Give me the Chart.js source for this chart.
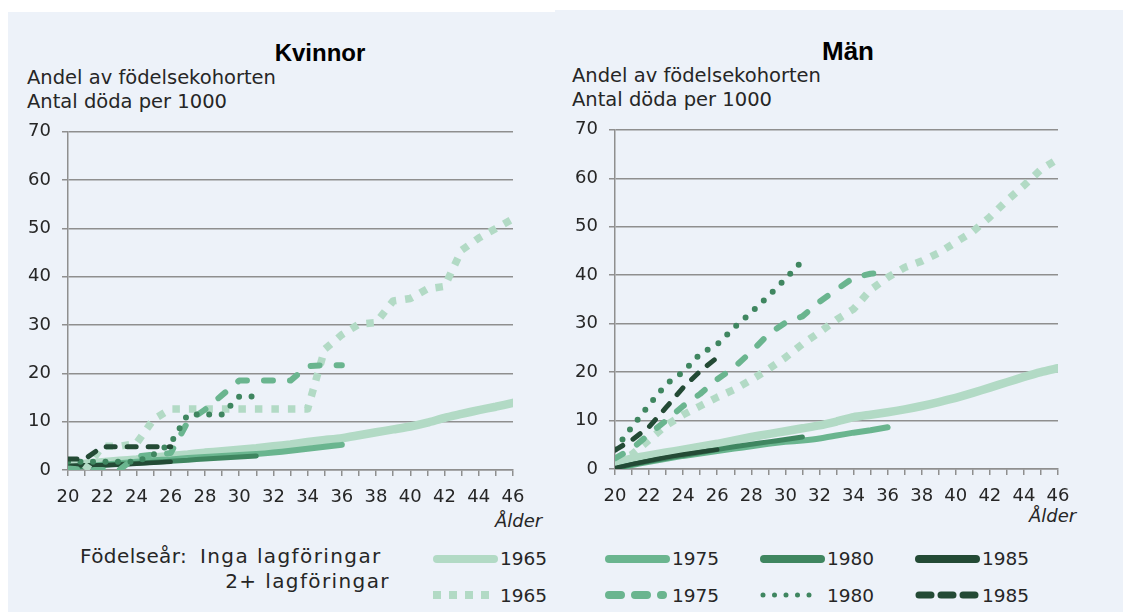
<!DOCTYPE html>
<html>
<head>
<meta charset="utf-8">
<script src="https://cdn.jsdelivr.net/npm/chart.js@4"></script>
<style>
  body { margin: 0; width: 1123px; height: 612px; background: #fff; position: relative; overflow: hidden; font-family: "DejaVu Sans", sans-serif; color: #262626; }
  .panel { position: absolute; background: #edf2f9; }
  .txt { position: absolute; white-space: nowrap; line-height: 1; }
  .title { font-family: "Liberation Sans", Arial, sans-serif; font-weight: bold; font-size: 24px; color: #000; }
  .sub { font-size: 19.5px; }
  .alder { font-size: 18px; font-style: italic; }
  .leg { font-size: 18.5px; }
  canvas { position: absolute; }
  svg { position: absolute; }
</style>
</head>
<body>
<div class="panel" style="left:8px; top:12px; width:547px; height:600px;"></div>
<div class="panel" style="left:555px; top:10px; width:568px; height:602px;"></div>

<div class="txt title" style="left:320px; top:41px; transform:translateX(-50%);">Kvinnor</div>
<div class="txt title" style="left:848px; top:38px; transform:translateX(-50%); font-size:26px;">Män</div>
<div class="txt sub" style="left:27px; top:68px;">Andel av födelsekohorten</div>
<div class="txt sub" style="left:27px; top:92px;">Antal döda per 1000</div>
<div class="txt sub" style="left:572px; top:66px;">Andel av födelsekohorten</div>
<div class="txt sub" style="left:572px; top:90px;">Antal döda per 1000</div>
<div class="txt alder" style="left:495px; top:512px;">Ålder</div>
<div class="txt alder" style="left:1029px; top:507px;">Ålder</div>

<canvas id="kvinnor" width="530" height="430" style="left:8px; top:110px;"></canvas>
<canvas id="man" width="528" height="431" style="left:555px; top:108px;"></canvas>

<div id="legend"></div>

<script>
// Ålder (x-axel)
const ages = [20, 21, 22, 23, 24, 25, 26, 27, 28, 29, 30, 31, 32, 33, 34, 35, 36, 37, 38, 39, 40, 41, 42, 43, 44, 45, 46];
const yTicks = [0, 10, 20, 30, 40, 50, 60, 70];

// Kvinnor, inga lagföringar
const kv1965 = [1.0, 1.3, 1.6, 1.9, 2.2, 2.6, 2.9, 3.2, 3.6, 3.9, 4.2, 4.5, 4.9, 5.3, 5.8, 6.2, 6.6, 7.2, 7.8, 8.4, 9.0, 9.8, 10.8, 11.6, 12.4, 13.1, 13.9];
const kv1975 = [0.5, 0.8, 1.1, 1.4, 1.7, 2.0, 2.2, 2.5, 2.7, 2.9, 3.1, 3.3, 3.6, 4.0, 4.4, 4.8, 5.2];
const kv1980 = [0.5, 0.8, 1.0, 1.2, 1.4, 1.6, 1.8, 2.0, 2.3, 2.5, 2.7, 2.9];
const kv1985 = [0.9, 1.0, 1.0, 1.1, 1.3, 1.5, 1.7];
// Kvinnor, 2+ lagföringar
const kv1965p = [0, 0, 4.9, 4.9, 5.5, 10.5, 12.6, 12.6, 12.6, 12.6, 12.6, 12.6, 12.6, 12.6, 12.6, 25.0, 28.0, 30.2, 30.5, 35.0, 35.5, 37.5, 38.0, 45.5, 48.0, 50.0, 52.0];
const kv1975p = [0.3, 0, 0, 0, 2.8, 3.2, 3.5, 10.0, 12.5, 15.5, 18.5, 18.5, 18.5, 18.5, 21.5, 21.7, 21.7];
const kv1980p = [1.7, 1.7, 1.7, 1.7, 1.7, 3.2, 5.5, 11.5, 11.5, 11.5, 15.2, 15.2];
const kv1985p = [2.3, 2.3, 4.8, 4.8, 4.8, 4.8, 4.8];

// Män, inga lagföringar
const man1965 = [1.2, 2.2, 2.8, 3.4, 4.0, 4.6, 5.2, 5.9, 6.6, 7.2, 7.8, 8.4, 9.0, 9.8, 10.7, 11.2, 11.7, 12.3, 13.0, 13.8, 14.7, 15.7, 16.8, 17.9, 19.0, 20.0, 20.8];
const man1975 = [0, 0.8, 1.5, 2.1, 2.7, 3.2, 3.7, 4.2, 4.7, 5.2, 5.6, 5.9, 6.3, 6.9, 7.5, 8.0, 8.6];
const man1980 = [0, 0.9, 1.6, 2.2, 2.8, 3.4, 4.0, 4.6, 5.1, 5.6, 6.1, 6.6];
const man1985 = [0.2, 1.0, 1.7, 2.4, 3.0, 3.5, 4.0];
// Män, 2+ lagföringar
const man1965p = [1.5, 3.0, 6.0, 9.0, 11.2, 13.0, 14.8, 16.4, 18.4, 20.6, 23.0, 25.8, 28.2, 30.8, 33.0, 37.0, 39.5, 41.6, 42.9, 44.6, 46.8, 49.0, 52.0, 55.4, 58.5, 61.8, 64.0];
const man1975p = [2.2, 4.2, 7.2, 10.0, 13.0, 15.5, 18.5, 21.0, 24.2, 27.8, 30.2, 31.5, 34.5, 37.0, 39.5, 40.3, 40.5];
const man1980p = [4.0, 8.7, 13.2, 17.5, 20.0, 23.8, 25.7, 29.2, 32.3, 35.7, 39.2, 43.0];
const man1985p = [3.9, 6.0, 8.7, 12.7, 16.8, 20.2, 23.0];

const years = ['1965', '1975', '1980', '1985'];
const colors = ['#b2dac5', '#6ab58f', '#3f8660', '#234a35'];

// linjestilar per födelseår
const solidW = [8.5, 6, 5, 4.5];
const dashStyles = [
  { w: 7.5, dash: [7.5, 9], cap: 'butt' },
  { w: 6, dash: [9, 17], cap: 'round' },
  { w: 6, dash: [0, 12.5], cap: 'round' },
  { w: 5, dash: [9, 12], cap: 'round' }
];

function pts(vals) {
  return vals.map((v, i) => ({ x: ages[i], y: v }));
}

function buildDatasets(solid, plus) {
  const sets = [];
  // 2+ lagföringar överst
  for (let i = 3; i >= 0; i--) {
    sets.push({
      label: years[i] + ' 2+',
      data: pts(plus[i]),
      borderColor: colors[i],
      borderWidth: dashStyles[i].w,
      borderDash: dashStyles[i].dash,
      borderCapStyle: dashStyles[i].cap,
      borderJoinStyle: 'round',
      pointRadius: 0,
      tension: 0,
      fill: false
    });
  }
  for (let i = 3; i >= 0; i--) {
    sets.push({
      label: years[i],
      data: pts(solid[i]),
      borderColor: colors[i],
      borderWidth: solidW[i],
      borderCapStyle: 'round',
      borderJoinStyle: 'round',
      pointRadius: 0,
      tension: 0.2,
      fill: false
    });
  }
  return sets;
}

function makeChart(id, solid, plus) {
  const ctx = document.getElementById(id).getContext('2d');
  return new Chart(ctx, {
    type: 'line',
    data: { datasets: buildDatasets(solid, plus) },
    options: {
      responsive: false,
      animation: false,
      devicePixelRatio: 1,
      layout: { padding: { left: 0, top: 18, right: 25, bottom: 0 } },
      plugins: { legend: { display: false }, tooltip: { enabled: false } },
      scales: {
        x: {
          type: 'linear',
          min: ages[0],
          max: ages[ages.length - 1],
          afterFit: s => { s.height = 70; },
          afterBuildTicks: s => { s.ticks = ages.map(v => ({ value: v })); },
          ticks: {
            autoSkip: false,
            maxRotation: 0,
            padding: 11,
            color: '#262626',
            font: { family: 'DejaVu Sans', size: 18 },
            callback: v => (v % 2 === 0 ? String(v) : '')
          },
          grid: { drawOnChartArea: false, drawTicks: true, tickLength: 6, color: '#8f8f8f', lineWidth: 1.5 },
          border: { color: '#8f8f8f', width: 1.5 }
        },
        y: {
          min: 0,
          max: 70,
          afterFit: s => { s.width = 60; },
          afterBuildTicks: s => { s.ticks = yTicks.map(v => ({ value: v })); },
          ticks: {
            padding: 11,
            color: '#262626',
            font: { family: 'DejaVu Sans', size: 18 }
          },
          grid: { color: '#8f8f8f', lineWidth: 1.5, tickLength: 6 },
          border: { color: '#8f8f8f', width: 1.5 }
        }
      }
    }
  });
}

makeChart('kvinnor', [kv1965, kv1975, kv1980, kv1985], [kv1965p, kv1975p, kv1980p, kv1985p]);
makeChart('man', [man1965, man1975, man1980, man1985], [man1965p, man1975p, man1980p, man1985p]);

// Förklaring
const legend = document.getElementById('legend');
const legX = [433, 605, 760, 915];
const rowY = [559, 595];
let html = '';
html += '<div class="txt leg" style="left:80px; top:546px; font-size:20px; letter-spacing:0.4px;">Födelseår:</div>';
html += '<div class="txt leg" style="left:200px; top:546px; font-size:20px; letter-spacing:1.4px;">Inga lagföringar</div>';
html += '<div class="txt leg" style="right:733px; top:571px; font-size:20px; letter-spacing:1.4px;">2+ lagföringar</div>';
for (let i = 0; i < 4; i++) {
  const x = legX[i];
  // heldragen
  html += `<svg style="left:${x}px; top:${rowY[0] - 6}px;" width="66" height="12">` +
    `<line x1="4" y1="6" x2="61" y2="6" stroke="${colors[i]}" stroke-width="8" stroke-linecap="round"/></svg>`;
  html += `<div class="txt leg" style="left:${x + 67}px; top:${rowY[0] - 9}px;">${years[i]}</div>`;
  // streckad / prickad
  let line;
  if (i === 0) line = `<line x1="0" y1="6" x2="60" y2="6" stroke="${colors[i]}" stroke-width="8" stroke-dasharray="8 8"/>`;
  else if (i === 1) line = `<line x1="4" y1="6" x2="58" y2="6" stroke="${colors[i]}" stroke-width="8" stroke-linecap="round" stroke-dasharray="12 14"/>`;
  else if (i === 2) line = `<line x1="3" y1="6" x2="60" y2="6" stroke="${colors[i]}" stroke-width="5" stroke-linecap="round" stroke-dasharray="0 11.5"/>`;
  else line = `<line x1="4" y1="6" x2="60" y2="6" stroke="${colors[i]}" stroke-width="7" stroke-linecap="round" stroke-dasharray="12 10"/>`;
  html += `<svg style="left:${x}px; top:${rowY[1] - 6}px;" width="66" height="12">${line}</svg>`;
  html += `<div class="txt leg" style="left:${x + 67}px; top:${rowY[1] - 8}px;">${years[i]}</div>`;
}
legend.innerHTML = html;
</script>
</body>
</html>
